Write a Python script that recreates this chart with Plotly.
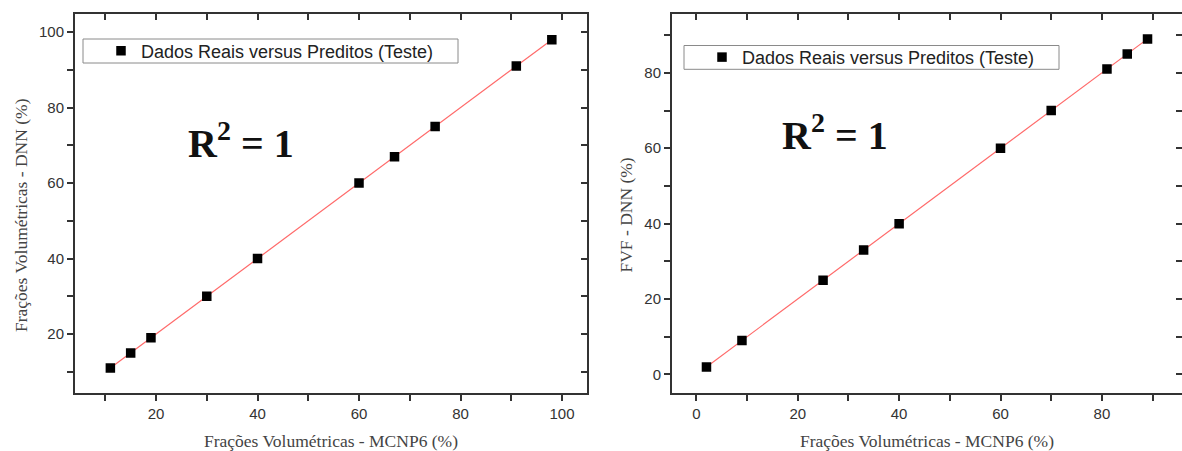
import numpy as np
import plotly.graph_objects as go

# ---- data ----
left_real = [11, 15, 19, 30, 40, 60, 67, 75, 91, 98]
left_pred = [11, 15, 19, 30, 40, 60, 67, 75, 91, 98]
right_real = [2, 9, 25, 33, 40, 60, 70, 81, 85, 89]
right_pred = [2, 9, 25, 33, 40, 60, 70, 81, 85, 89]

legend_label = "Dados Reais versus Preditos (Teste)"
x_title = "Frações Volumétricas - MCNP6 (%)"
y_title_left = "Frações Volumétricas - DNN (%)"
y_title_right = "FVF - DNN (%)"
r2_text = "R<sup>2</sup> = 1"

left_xrange = [4.03, 104.93]
left_yrange = [4.3, 104.8]
right_xrange = [-4.8, 95.8]
right_yrange = [-5.0, 95.6]

W, H = 1182, 451
AX = "#333333"
TICKFONT = dict(family="Liberation Sans, Arial, sans-serif", size=15, color="#333333")
TITLEFONT = dict(family="Liberation Serif, Times New Roman, serif", size=17.5, color="#444444")
LEGFONT = dict(family="Liberation Sans, Arial, sans-serif", size=18, color="#222222")
R2FONT = dict(family="Liberation Serif, Times New Roman, serif", size=40, color="#111111")


def fit_line(xs, ys):
    m, b = np.polyfit(xs, ys, 1)
    xx = np.array([min(xs), max(xs)], dtype=float)
    return xx, m * xx + b


fig = go.Figure()

# left panel
lx, ly = fit_line(left_real, left_pred)
fig.add_trace(go.Scatter(x=lx, y=ly, mode="lines", line=dict(color="#ff6a6a", width=1.2),
                         showlegend=False, xaxis="x", yaxis="y", hoverinfo="skip"))
fig.add_trace(go.Scatter(x=left_real, y=left_pred, mode="markers", name=legend_label,
                         marker=dict(symbol="square", color="black", size=9.5),
                         xaxis="x", yaxis="y", legend="legend"))
fig.add_trace(go.Scatter(x=left_real, y=left_pred, mode="markers", marker=dict(opacity=0),
                         showlegend=False, hoverinfo="skip", xaxis="x3", yaxis="y3"))

# right panel
rx, ry = fit_line(right_real, right_pred)
fig.add_trace(go.Scatter(x=rx, y=ry, mode="lines", line=dict(color="#ff6a6a", width=1.2),
                         showlegend=False, xaxis="x2", yaxis="y2", hoverinfo="skip"))
fig.add_trace(go.Scatter(x=right_real, y=right_pred, mode="markers", name=legend_label,
                         marker=dict(symbol="square", color="black", size=9.5),
                         xaxis="x2", yaxis="y2", legend="legend2"))
fig.add_trace(go.Scatter(x=right_real, y=right_pred, mode="markers", marker=dict(opacity=0),
                         showlegend=False, hoverinfo="skip", xaxis="x4", yaxis="y4"))

ydom = [1 - 393.3 / H, 1 - 14 / H]
ldom = [75 / W, 587 / W]
rdom = [672 / W, 1.0]


def main_axis(dom, rng, anchor, title, standoff):
    ax = dict(
        domain=dom, range=rng, anchor=anchor, tick0=0, dtick=20,
        ticks="outside", ticklen=6, tickwidth=1.5, tickcolor=AX,
        minor=dict(dtick=10, tick0=0, ticks="outside", ticklen=6, tickwidth=1.5, tickcolor=AX),
        showline=True, linecolor=AX, linewidth=2, mirror=True,
        showgrid=False, zeroline=False, tickfont=TICKFONT,
        automargin=False,
    )
    if title:
        ax["title"] = dict(text=title, font=TITLEFONT, standoff=standoff)
    return ax


def overlay_axis(rng, overlaying, anchor, side):
    return dict(
        range=rng, overlaying=overlaying, anchor=anchor, side=side, tick0=0, dtick=10,
        ticks="inside", ticklen=6, tickwidth=1.5, tickcolor=AX,
        showticklabels=False, showline=False, showgrid=False, zeroline=False,
        automargin=False,
    )


def px_x(p):
    return p / W


def px_y(p):
    return 1 - p / H


# legend frames (box drawn as shapes, entries placed inside)
legend_boxes = [(83, 39, 458, 63), (684, 45.5, 1059, 69.3)]
shapes = [dict(type="rect", xref="paper", yref="paper", x0=px_x(a), x1=px_x(c),
               y0=px_y(d), y1=px_y(b), line=dict(color="#8a8a8a", width=1),
               fillcolor="white", layer="above")
          for (a, b, c, d) in legend_boxes]

annotations = [
    dict(text="<b>" + r2_text + "</b>", xref="paper", yref="paper",
         x=px_x(186), y=px_y(140), xanchor="left", yanchor="middle", showarrow=False, font=R2FONT),
    dict(text="<b>" + r2_text + "</b>", xref="paper", yref="paper",
         x=px_x(780), y=px_y(132.5), xanchor="left", yanchor="middle", showarrow=False, font=R2FONT),
    dict(text=y_title_left, xref="paper", yref="paper", x=px_x(21.6), y=px_y(215.5),
         xanchor="center", yanchor="middle", textangle=-90, showarrow=False, font=TITLEFONT),
    dict(text=y_title_right, xref="paper", yref="paper", x=px_x(626), y=px_y(215.5),
         xanchor="center", yanchor="middle", textangle=-90, showarrow=False, font=TITLEFONT),
]

fig.update_layout(
    width=W, height=H,
    margin=dict(l=0, r=0, t=0, b=0),
    paper_bgcolor="white", plot_bgcolor="white",
    xaxis=main_axis(ldom, left_xrange, "y", x_title, 13),
    yaxis=main_axis(ydom, left_yrange, "x", None, 0),
    xaxis2=main_axis(rdom, right_xrange, "y2", x_title, 13),
    yaxis2=main_axis(ydom, right_yrange, "x2", None, 0),
    xaxis3=overlay_axis(left_xrange, "x", "y", "top"),
    yaxis3=overlay_axis(left_yrange, "y", "x", "right"),
    xaxis4=overlay_axis(right_xrange, "x2", "y2", "top"),
    yaxis4=overlay_axis(right_yrange, "y2", "x2", "right"),
    legend=dict(x=px_x(101), y=px_y(51), xanchor="left", yanchor="middle",
                borderwidth=0, bgcolor="rgba(0,0,0,0)", font=LEGFONT),
    legend2=dict(x=px_x(702), y=px_y(57.4), xanchor="left", yanchor="middle",
                 borderwidth=0, bgcolor="rgba(0,0,0,0)", font=LEGFONT),
    shapes=shapes,
    annotations=annotations,
)

fig.write_html("out.html", config={"displayModeBar": False},
               post_script="document.body.style.margin='0';document.body.style.overflow='hidden';")
